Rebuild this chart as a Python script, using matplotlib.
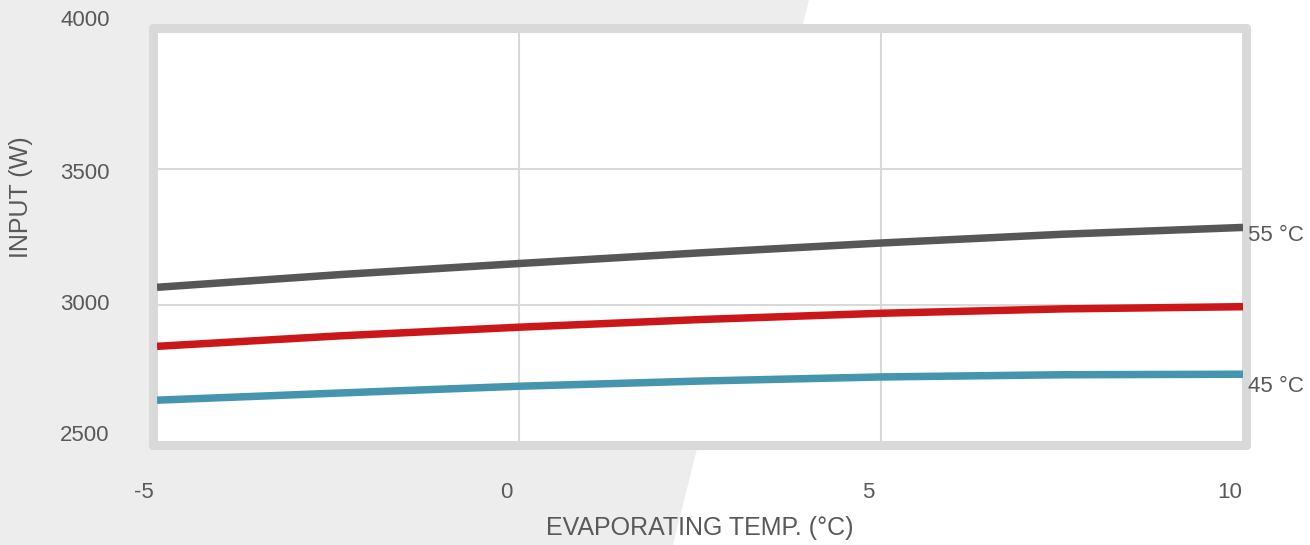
import matplotlib
matplotlib.use("Agg")
import matplotlib.pyplot as plt
from matplotlib.patches import Polygon, Rectangle
from matplotlib.transforms import ScaledTranslation

plt.rcParams['font.family'] = ['Liberation Sans', 'DejaVu Sans']

# data
evap_temp = [-5, -2.5, 0, 2.5, 5, 7.5, 10]
input_55 = [3066, 3112, 3153, 3192, 3228, 3260, 3285]
input_50 = [2850, 2888, 2920, 2948, 2971, 2987, 2995]
input_45 = [2653, 2679, 2704, 2723, 2738, 2746, 2748]
x_ticks = [-5, 0, 5, 10]
y_ticks = [2500, 3000, 3500, 4000]

text_col = '#595959'
grid_col = '#d9d9d9'
W, H = 1310, 545

fig = plt.figure(figsize=(W / 100, H / 100), dpi=100, facecolor='white')

# light grey slanted panel in the background
fig.patches.append(Polygon([(0, 1), (809 / W, 1), (673 / W, 0), (0, 0)],
                           closed=True, transform=fig.transFigure,
                           facecolor='#ededed', edgecolor='none', zorder=0))

# plot area, in pixels: x 157..1243, y 32..442 (from top)
ax = fig.add_axes([157 / W, (H - 442) / H, 1086 / W, 410 / H])
ax.set_facecolor('white')
ax.set_zorder(1)

# thick rounded frame drawn just outside the plot area
fig.patches.append(Rectangle((153 / W, (H - 446) / H), 1094 / W, 418 / H,
                             transform=fig.transFigure, fill=False,
                             edgecolor=grid_col, linewidth=5.8,
                             joinstyle='round', zorder=0.5))

lw = 5.4
ax.plot(evap_temp, input_55, color='#575757', lw=lw, solid_capstyle='butt', zorder=3)
ax.plot(evap_temp, input_50, color='#cc171a', lw=lw, solid_capstyle='butt', zorder=3)
ax.plot(evap_temp, input_45, color='#4595ae', lw=lw, solid_capstyle='butt', zorder=3)

ax.set_xlim(-5, 10)
ax.set_ylim(2500, 4000)
ax.set_xticks(x_ticks)
ax.set_yticks(y_ticks)
ax.set_xticklabels([str(t) for t in x_ticks])
ax.set_yticklabels([str(t) for t in y_ticks])
ax.grid(True, color=grid_col, lw=1.5)
ax.set_axisbelow(True)
for s in ax.spines.values():
    s.set_visible(False)

ax.tick_params(axis='both', length=0, labelsize=16, labelcolor=text_col)
ax.tick_params(axis='x', pad=29)
ax.tick_params(axis='y', pad=34)

# tick labels sit a little off their ticks in the original
for lbl in ax.get_xticklabels():
    lbl.set_transform(lbl.get_transform() + ScaledTranslation(-13 / 100, 0, fig.dpi_scale_trans))
for lbl, dy in zip(ax.get_yticklabels(), [9, 3, -2, 14]):
    lbl.set_transform(lbl.get_transform() + ScaledTranslation(0, dy / 100, fig.dpi_scale_trans))

ax.set_xlabel('EVAPORATING TEMP. (°C)', fontsize=18, color=text_col)
ax.xaxis.set_label_coords(0.5, -0.18)
ax.set_ylabel('INPUT (W)', fontsize=18, color=text_col)
ax.yaxis.set_label_coords(-0.114, 0.598)

for text, series, dy in [('55 °C', input_55, -8), ('45 °C', input_45, -12)]:
    ax.annotate(text, xy=(evap_temp[-1], series[-1]), xytext=(5, dy),
                textcoords='offset pixels', ha='left', va='center',
                fontsize=16, color=text_col, annotation_clip=False, zorder=5)

fig.savefig('out.png', dpi=100)
